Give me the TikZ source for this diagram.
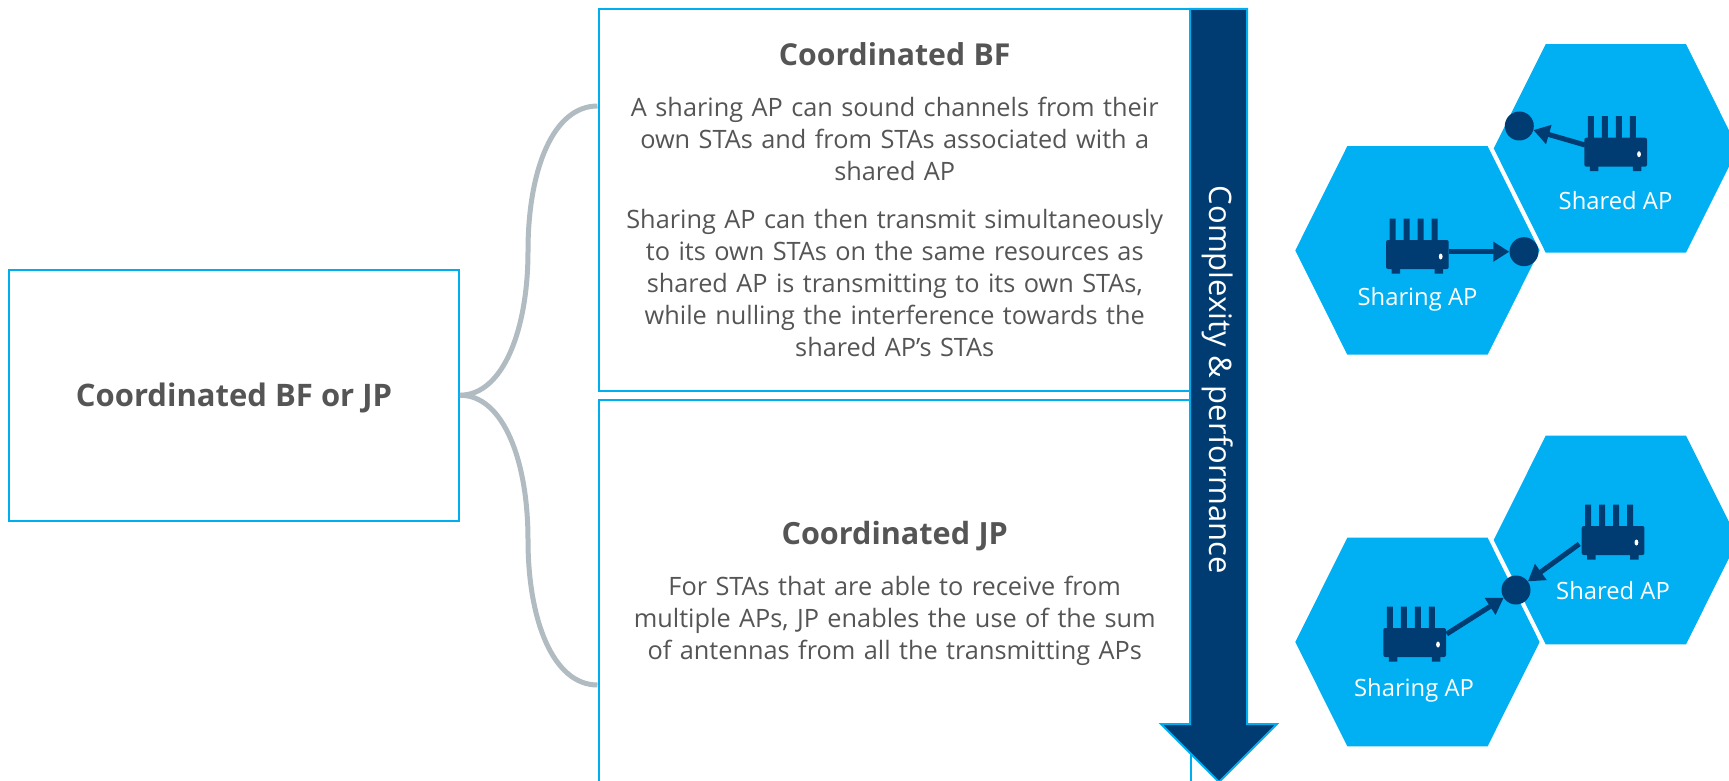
\documentclass[tikz,border=0pt]{standalone}
\usepackage{fontspec}
\setmainfont{Open Sans}
\definecolor{cyanb}{HTML}{00AEEF}
\definecolor{hexc}{HTML}{00B0F2}
\definecolor{navy}{HTML}{003C71}
\definecolor{txt}{HTML}{555555}
\definecolor{conn}{HTML}{B1BBC2}
\tikzset{
  infobox/.style={draw=cyanb,line width=2pt,fill=white,text=txt,align=center,font=\fontsize{25.3}{32}\selectfont,inner sep=0pt,anchor=north west},
  hexcell/.style={fill=hexc,draw=none},
  aplabel/.style={text=white,font=\fontsize{23.8}{28}\selectfont,inner sep=0pt},
  spot/.style={circle,fill=navy,draw=none,minimum size=29pt,inner sep=0pt},
  conline/.style={draw=conn,line width=5pt},
  sig/.style={draw=navy,line width=5pt,-{Triangle[length=16pt,width=19pt]}},
  routerpic/.pic={
    \fill[navy,rounded corners=2pt] (0,0) rectangle (62.7,29);
    \fill[navy] (5.5,28) rectangle (14,33.5) (48.5,28) rectangle (57,33.5);
    \fill[navy] (3.5,1) rectangle (9.5,-21.5) (17.5,1) rectangle (23.5,-21.5) (31.5,1) rectangle (37.5,-21.5) (45.5,1) rectangle (51.5,-21.5);
    \fill[white] (54.7,16.5) ellipse (1.9pt and 3pt);
  }
}
\usetikzlibrary{arrows.meta}
\newcommand{\hexat}[2]{\fill[hexcell] (#1,#2) -- ++(52,-104.3) -- ++(140.3,0) -- ++(52,104.3) -- ++(-52,104.3) -- ++(-140.3,0) -- cycle;}
\begin{document}
\begin{tikzpicture}[x=1pt,y=-1pt]
\useasboundingbox (0,0) rectangle (1729,781);
\clip (0,0) rectangle (1729,781);

% boxes
\node[infobox,minimum width=450pt,minimum height=250.5pt] (left) at (8,269)
  {\smash{\raisebox{-10.8pt}{\fontsize{31}{36}\selectfont\bfseries Coordinated BF or JP}}};
\node[infobox,minimum width=592.5pt,minimum height=381pt,text width=592.5pt] (bf) at (597.5,8.5)
  {{\fontsize{30.2}{32}\selectfont\bfseries Coordinated BF}\\[19pt]
   A sharing AP can sound channels from their\\
   own STAs and from STAs associated with a\\
   shared AP\\[16pt]
   Sharing AP can then transmit simultaneously\\
   to its own STAs on the same resources as\\
   shared AP is transmitting to its own STAs,\\
   while nulling the interference towards the\\
   shared AP’s STAs};
\node[infobox,minimum width=592.5pt,minimum height=387pt,text width=592.5pt] (jp) at (597.5,399)
  {{\fontsize{30.6}{32}\selectfont\bfseries Coordinated JP}\\[19.5pt]
   For STAs that are able to receive from\\
   multiple APs, JP enables the use of the sum\\
   of antennas from all the transmitting APs};

% connectors
\coordinate (bfin) at (597.5,106);
\coordinate (jpin) at (597.5,685);
\draw[conline] (left.east) .. controls (503,395) and (528,330) .. (528,251) .. controls (528,170) and (553,106) .. (bfin);
\draw[conline] (left.east) .. controls (503,395) and (528,460) .. (528,540) .. controls (528,620) and (553,685) .. (jpin);

% big arrow
\draw[fill=navy,draw=cyanb,line width=2pt,miter limit=4]
  (1190,9) -- (1247,9) -- (1247,724) -- (1277,724) -- (1219,782) -- (1161,724) -- (1190,724) -- cycle;
\node[text=white,font=\fontsize{31}{36}\selectfont,rotate=-90,inner sep=0pt] (perf) at (1218,380) {Complexity \& performance};

% upper pair
\hexat{1493.7}{148.4}
\hexat{1295.3}{250.4}
\pic at (1584.3,137.7) {routerpic};
\pic at (1386,240) {routerpic};
\node[spot] (c1) at (1519.3,126) {};
\node[spot] (c2) at (1524,251.7) {};
\coordinate (r1) at (1585,145);
\coordinate (r2) at (1448.7,251.7);
\draw[sig] (r1) -- (c1);
\draw[sig] (r2) -- (c2);
\node[aplabel] (shared1) at (1615.5,200.5) {Shared AP};
\node[aplabel] (sharing1) at (1417.5,299) {Sharing AP};

% lower pair
\hexat{1493.7}{540}
\hexat{1295.3}{642}
\pic at (1581.7,526) {routerpic};
\pic at (1383.3,628) {routerpic};
\node[spot] (c3) at (1516,590) {};
\coordinate (r3) at (1579.3,544);
\coordinate (r4) at (1446.7,634);
\draw[sig] (r3) -- (c3);
\draw[sig] (r4) -- (c3);
\node[aplabel] (shared2) at (1613,591) {Shared AP};
\node[aplabel] (sharing2) at (1414,690) {Sharing AP};
\end{tikzpicture}
\end{document}
